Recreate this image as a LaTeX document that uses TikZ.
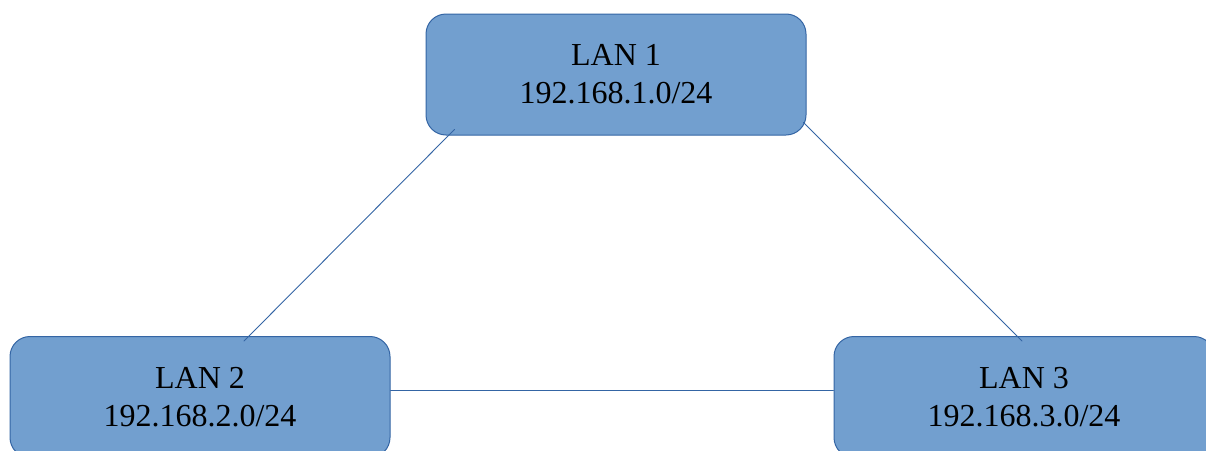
\documentclass[tikz,border=0pt]{standalone}
\usepackage{fontspec}
\setmainfont{Liberation Serif}
\usepackage{tikz}
\usetikzlibrary{arrows}
\definecolor{lanfill}{rgb}{0.4470588235294118,0.6235294117647059,0.8117647058823529}
\definecolor{landraw}{rgb}{0.20392156862745098,0.396078431372549,0.6431372549019608}
\begin{document}
\begin{tikzpicture}[line cap=round,line join=round,x=1pt,y=-1pt,
    lanbox/.style={draw=landraw,fill=lanfill,line width=1pt,rounded corners=20pt,
      minimum width=380pt,minimum height=121pt,inner sep=0pt,align=center,
      font=\fontsize{32}{38}\selectfont}]
    \useasboundingbox (0,0) rectangle (1206,450);
    \clip (0,0) rectangle (1206,450);
    \node [lanbox] (lan1) at (616,74.5) {LAN 1\\192.168.1.0/24};
    \node [lanbox] (lan2) at (200,397) {LAN 2\\192.168.2.0/24};
    \node [lanbox] (lan3) at (1024,397) {LAN 3\\192.168.3.0/24};
    \draw [line width=0.9pt,color=landraw] ([xshift=29pt,yshift=6pt]lan1.south west)-- ([xshift=44pt,yshift=-5pt]lan2.north);
    \draw [line width=0.9pt,color=landraw] ([xshift=-3pt,yshift=13pt]lan1.south east)-- ([xshift=-2pt,yshift=-5pt]lan3.north);
    \draw [line width=0.9pt,color=landraw] ([yshift=7pt]lan2.east)-- ([yshift=7pt]lan3.west);
\end{tikzpicture}
\end{document}
